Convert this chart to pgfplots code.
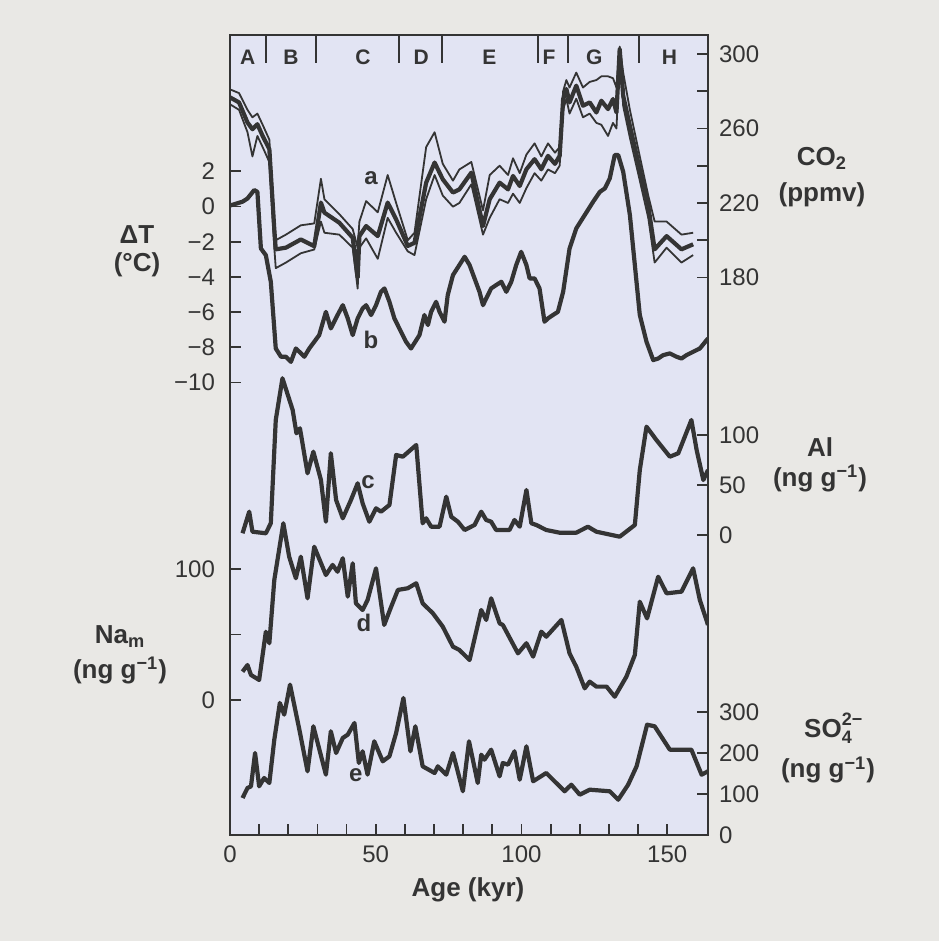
\documentclass[border=0pt]{standalone}
\usepackage{fontspec}
\setmainfont{Liberation Sans}
\usepackage{pgfplots}
\pgfplotsset{compat=1.18}
\definecolor{outerbg}{RGB}{233,232,229}
\definecolor{plotbg}{RGB}{226,228,243}
\definecolor{ink}{RGB}{52,52,52}
\pgfplotsset{
  base/.style={at={(0,0)}, anchor=south west, scale only axis, width=239pt, height=400pt,
    xmin=0, xmax=164, major tick length=5.5pt,
    tick style={ink, line width=0.9pt}, axis line style={ink, line width=1pt},
    tick label style={font=\fontsize{12}{14}\selectfont, text=ink},
    /pgf/number format/assume math mode=true},
  over/.style={base, axis x line=none, xtick=\empty},
  curve/.style={ink, line width=2.1pt, line join=round, no markers},
  thin/.style={ink, line width=0.9pt, line join=round, no markers},
}
\begin{document}
\begin{tikzpicture}
\fill[outerbg] (-115pt,-53pt) rectangle (354.5pt,417.5pt);
% ---- Delta T (main axis, frame) ----
\begin{axis}[base, ymin=-35.71, ymax=9.74, axis background/.style={fill=plotbg},
  ytick={-10,-8,-6,-4,-2,0,2}, yticklabels={−10,−8,−6,−4,−2,0,2}, ytick pos=left,
  xtick={0,50,100,150}, xticklabels={0,50,100,150},
  minor xtick={10,20,30,40,60,70,80,90,110,120,130,140}, minor tick length=5.5pt,
  xtick pos=left, yticklabel style={xshift=-4pt}, xticklabel style={yshift=-2pt}, tick align=inside]
\addplot[curve] coordinates {(0,0.05)(4.3,0.27)(6.0,0.45)(8.3,0.93)(9.4,0.83)(10.6,-2.39)(12.3,-2.77)(14.0,-4.28)(15.7,-8.07)(17.5,-8.54)(19.2,-8.54)(20.9,-8.83)(22.6,-8.07)(23.8,-8.26)(25.5,-8.54)(27.2,-8.07)(28.9,-7.69)(30.6,-7.31)(32.9,-5.99)(34.6,-6.93)(36.9,-6.17)(38.7,-5.61)(40.4,-6.36)(42.1,-7.31)(43.8,-6.36)(45.5,-5.8)(46.7,-5.61)(48.4,-6.17)(50.1,-5.61)(51.8,-4.85)(53.0,-4.66)(54.7,-5.42)(56.4,-6.36)(58.1,-6.93)(60.4,-7.69)(62.1,-8.07)(63.9,-7.6)(65.0,-7.31)(66.7,-6.17)(67.9,-6.74)(69.0,-5.99)(70.7,-5.42)(71.9,-5.99)(73.6,-6.55)(74.7,-5.04)(76.5,-3.9)(78.7,-3.33)(80.5,-2.86)(82.2,-3.33)(83.9,-4.09)(85.6,-4.85)(86.8,-5.61)(87.9,-5.23)(89.6,-4.66)(91.3,-4.47)(93.1,-4.28)(94.8,-4.85)(96.5,-4.28)(98.2,-3.33)(99.9,-2.58)(101.7,-3.33)(102.8,-4.09)(104.5,-4.09)(106.2,-4.66)(107.9,-6.55)(109.1,-6.36)(110.8,-6.17)(112.5,-5.99)(114.3,-4.85)(116.5,-2.39)(118.8,-1.25)(121.7,-0.49)(124.6,0.27)(126.9,0.83)(128.6,1.02)(130.3,1.59)(132.0,2.92)(133.2,2.92)(134.9,1.97)(137.2,-0.49)(138.9,-3.33)(140.6,-6.17)(142.9,-7.69)(145.2,-8.73)(146.9,-8.64)(148.6,-8.45)(150.9,-8.35)(153.2,-8.54)(154.9,-8.64)(156.6,-8.45)(158.9,-8.26)(161.2,-8.07)(164,-7.5)};
\begin{scope}[font=\bfseries\fontsize{10.5}{12}\selectfont, text=ink]
\node at (axis cs:6.1,8.49) {A};
\node at (axis cs:20.9,8.49) {B};
\node at (axis cs:45.6,8.49) {C};
\node at (axis cs:65.6,8.49) {D};
\node at (axis cs:89,8.49) {E};
\node at (axis cs:109.5,8.49) {F};
\node at (axis cs:125,8.49) {G};
\node at (axis cs:150.8,8.49) {H};
\end{scope}
\begin{scope}[font=\bfseries\fontsize{12}{14}\selectfont, text=ink]
\node at (axis cs:48.4,1.62) {a};
\node at (axis cs:48.4,-7.59) {b};
\node at (axis cs:47.4,-15.65) {c};
\node at (axis cs:46.0,-23.66) {d};
\node at (axis cs:43.2,-32.3) {e};
\end{scope}
\end{axis}
% ---- section separators on top ----
\begin{axis}[base, ymin=0, ymax=1, axis y line=none, axis x line*=top,
  xtick={12.3,29.5,58.0,72.8,105.8,116.1,140.2}, xticklabels={}, major tick length=14pt, tick align=inside]
\end{axis}
% ---- CO2 ----
\begin{axis}[over, ymin=-119.4, ymax=310.2, axis y line*=right,
  ytick={180,200,220,240,260,280,300}, yticklabels={180,,220,,260,,300}, yticklabel style={xshift=2pt}, tick align=inside]
\addplot[thin] coordinates {(0,281)(3.1,279)(6.0,270)(7.7,266)(9.4,268)(11.2,262)(13.5,254)(15.2,212)(15.7,200)(19.2,203)(24.3,208)(28.9,209)(31.2,233)(32.4,222)(37.5,214)(42.1,206)(43.8,196)(44.4,210)(46.7,221)(50.7,215)(54.1,235)(57.0,220)(61.0,200)(63.3,204)(67.3,250)(70.2,258)(73.0,241)(76.5,232)(78.7,238)(82.8,242)(86.8,216)(89.1,235)(92.5,240)(95.4,235)(97.1,244)(99.4,236)(101.7,246)(104.5,252)(106.8,245)(109.1,252)(111.5,247)(113.1,250)(114.3,280)(115.4,286)(116.5,282)(118.8,290)(121.1,282)(123.4,285)(125.7,286)(127.4,288)(129.7,288)(131.4,287)(132.6,282)(133.7,304)(134.9,290)(137.2,270)(140.6,245)(143.5,224)(145.7,210)(149.8,210)(154.9,203)(158.9,204)};
\addplot[thin] coordinates {(0,273)(3.1,270)(6.0,258)(7.7,245)(9.4,256)(11.2,250)(13.5,242)(15.2,196)(15.7,185)(19.2,188)(24.3,193)(28.9,195)(31.2,210)(32.4,204)(37.5,203)(42.1,196)(43.8,174)(44.4,196)(46.7,201)(50.7,190)(54.1,212)(57.0,204)(61.0,194)(63.3,192)(67.3,222)(70.2,235)(73.0,224)(76.5,218)(78.7,220)(82.8,230)(86.8,203)(89.1,212)(92.5,222)(95.4,220)(97.1,225)(99.4,220)(101.7,228)(104.5,236)(106.8,232)(109.1,238)(111.5,236)(113.1,240)(114.3,270)(115.4,276)(116.5,268)(118.8,276)(121.1,266)(123.4,268)(125.7,263)(127.4,262)(129.7,256)(131.4,263)(132.6,260)(133.7,300)(134.9,272)(137.2,255)(140.6,232)(143.5,212)(145.7,188)(149.8,196)(154.9,188)(158.9,192)};
\addplot[curve] coordinates {(0,276.7)(3.1,274.0)(6.0,263.2)(7.7,259.6)(9.4,262.3)(11.2,256.0)(13.5,248.9)(15.2,205.8)(15.7,195.1)(19.2,196.0)(24.3,200.4)(28.9,196.8)(31.2,220.2)(32.4,214.8)(37.5,209.4)(42.1,201.3)(43.8,180.0)(44.4,202.2)(46.7,207.6)(50.7,202.2)(54.1,220.2)(57.0,211.2)(61.0,196.9)(63.3,198.6)(67.3,230.9)(70.2,241.7)(73.0,232.7)(76.5,225.6)(78.7,227.3)(82.8,236.3)(86.8,207.6)(89.1,222.0)(92.5,230.9)(95.4,227.3)(97.1,234.5)(99.4,229.1)(101.7,238.1)(104.5,243.5)(106.8,238.1)(109.1,245.3)(111.5,241.0)(113.1,245.3)(114.3,275.8)(115.4,281.2)(116.5,274.0)(118.8,283.0)(121.1,272.2)(123.4,274.0)(125.7,268.6)(127.4,274.9)(129.7,270.4)(131.4,275.8)(132.6,268.6)(133.7,302.7)(134.9,277.6)(137.2,261.4)(140.6,238.1)(143.5,218.4)(145.7,195.1)(149.8,202.2)(154.9,195.1)(158.9,197.8)};
\end{axis}
% ---- Al ----
\begin{axis}[over, ymin=-300, ymax=500, axis y line*=right, ytick={0,50,100}, yticklabel style={xshift=2pt}, tick align=inside]
\addplot[curve] coordinates {(4.3,1.7)(6.6,23.3)(7.7,3.3)(12.3,1.7)(14.0,11.7)(15.7,115)(18.0,156.7)(21.5,125)(22.8,101.7)(24.0,106.7)(26.6,61.7)(28.6,83.3)(31.2,55)(32.9,13.3)(34.6,81.7)(36.4,35)(38.7,16.7)(41.5,35)(43.8,51.7)(45.5,31.7)(47.8,13.3)(50.1,26.7)(51.8,23.3)(54.7,30)(57.0,80)(59.3,78.3)(63.9,90)(66.1,11.7)(67.3,16.7)(69.0,8.3)(71.9,8.3)(74.2,38.3)(75.9,18.3)(78.2,13.3)(80.5,5)(83.9,10)(86.2,23.3)(87.9,15)(89.6,13.3)(91.3,5)(95.9,5)(97.6,15)(99.4,8.3)(101.7,45)(103.4,11.7)(105.1,10)(108.5,5)(113.1,2.3)(118.8,2.3)(122.8,8.3)(125.7,3.3)(133.7,-1.7)(138.9,10)(140.6,65)(142.9,108.3)(146.3,95)(150.9,78.3)(153.8,81.7)(158.3,115)(160.1,85)(162.4,55)(164,65)};
\end{axis}
% ---- Na ----
\begin{axis}[over, ymin=-103.05, ymax=507.6, axis y line*=left, ytick={0,50,100}, yticklabels={0,,100}, yticklabel style={xshift=-4pt}, tick align=inside]
\addplot[curve] coordinates {(4.3,21.6)(6.0,26.7)(7.2,19.1)(10.0,15.3)(12.3,52.1)(13.5,43.3)(15.2,91.6)(18.3,134.9)(20.3,109.4)(22.6,92.9)(24.3,109.4)(26.6,77.6)(28.9,117)(32.9,95.4)(35.2,103.1)(36.9,97.9)(38.7,108.2)(40.4,78.9)(42.1,104.3)(43.2,73.8)(45.5,68.7)(47.2,76.3)(50.1,100.5)(52.9,57.3)(55.3,71.2)(57.6,84.0)(61.0,85.3)(63.9,89.1)(66.1,73.8)(69.6,66.2)(73.0,56.0)(76.5,40.7)(78.7,38.2)(82.2,30.5)(86.2,68.7)(87.9,61.1)(89.6,77.6)(92.5,58.5)(93.6,57.3)(98.8,35.6)(101.7,43.3)(104.0,33.1)(106.8,52.1)(108.5,48.3)(113.7,61.1)(116.5,35.6)(118.8,25.4)(121.7,8.9)(123.4,14.0)(125.7,10.2)(129.2,10.2)(132.0,2.5)(136.0,17.8)(138.9,34.4)(140.6,75)(143.1,62.3)(146.9,94.1)(149.8,81.4)(154.9,82.7)(158.9,100.5)(161.2,76.3)(164,57.3)};
\end{axis}
% ---- SO4 ----
\begin{axis}[over, ymin=0, ymax=1951, axis y line*=right, ytick={0,100,200,300}, yticklabel style={xshift=2pt}, tick align=inside]
\addplot[curve] coordinates {(4.3,90.2)(6.0,114.6)(7.2,118.7)(8.6,200)(10.0,118.7)(11.7,139)(13.5,126.8)(15.2,232.5)(17.1,322)(18.6,293.5)(20.6,366.7)(23.8,256.9)(26.6,155.3)(28.6,265.1)(32.9,147.2)(34.6,252.9)(36.4,200)(38.7,236.6)(40.4,244.7)(42.7,273.2)(44.2,175.6)(45.5,204.1)(47.2,147.2)(49.5,228.5)(52.4,179.7)(54.7,191.9)(57.0,248.8)(59.5,334.1)(61.9,204.1)(63.6,265.1)(66.1,167.5)(70.2,151.2)(71.3,167.5)(74.2,147.2)(76.5,200)(79.9,106.6)(82.0,228.5)(85.0,126.8)(86.2,195.9)(87.3,183.7)(89.6,208.1)(92.5,143.1)(93.6,175.6)(95.4,171.5)(97.6,204.1)(99.4,134.9)(101.7,216.3)(104.0,131)(108.5,151.2)(114.8,106.6)(117.1,122.7)(120,98.3)(123.4,110.5)(130.3,106.6)(133.2,86.1)(136.6,122.7)(139.5,167.5)(143.1,269)(145.7,265.1)(150.9,208.1)(158.3,208.1)(161.8,147.2)(164,155.3)};
\end{axis}
% ---- axis titles ----
\begin{scope}[text=ink]
\node[font=\bfseries\fontsize{13}{14}\selectfont, align=center] at (-46.5pt,292pt) {ΔT\\(°C)};
\node[font=\bfseries\fontsize{13}{17.5}\selectfont, align=center] at (-55pt,90pt) {Na\textsubscript{m}\\(ng g\textsuperscript{−1})};
\node[font=\bfseries\fontsize{13}{18}\selectfont, align=center] at (296pt,329pt) {CO\textsubscript{2}\\(ppmv)};
\node[font=\bfseries\fontsize{13}{15}\selectfont, align=center] at (295pt,185pt) {Al\\(ng g\textsuperscript{−1})};
\node[font=\bfseries\fontsize{13}{20}\selectfont, align=center] at (299pt,43.5pt) {SO\rlap{\raisebox{0.9ex}{\fontsize{9}{10}\selectfont 2−}}\raisebox{-0.45ex}{\fontsize{9}{10}\selectfont 4}\\(ng g\textsuperscript{−1})};
\node[font=\bfseries\fontsize{13}{15}\selectfont] at (119pt,-27.5pt) {Age (kyr)};
\end{scope}
\pgfresetboundingbox
\useasboundingbox (-115pt,-53pt) rectangle (354.5pt,417.5pt);
\end{tikzpicture}
\end{document}
